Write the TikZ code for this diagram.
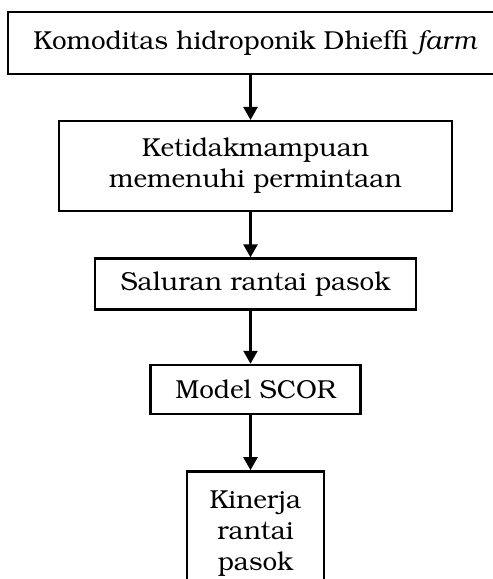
\documentclass[tikz,border=0pt]{standalone}
\usepackage[T1]{fontenc}
\usepackage{bookman}
\usetikzlibrary{arrows.meta,positioning}
\tikzset{stage/.style={rectangle,draw=black,line width=2.4pt,fill=white,align=center,inner sep=2pt,font=\fontsize{26}{31}\selectfont}}
\tikzset{toArrow/.style={-{Triangle[width=14pt,length=13pt]},line width=2.4pt,shorten <=-1pt}}

\begin{document}
\begin{tikzpicture}[x=1pt,y=-1pt]
\clip (0,0) rectangle (493,579);
\useasboundingbox (0,0) rectangle (493,579);
\begin{scope}[node distance=45pt]
	\node (komoditas) [stage,minimum width=495pt,minimum height=61.5pt] at (255.5,43) {Komoditas hidroponik Dhieffi \textit{farm}} ;
	\node (ketidak) [stage,minimum width=393pt,minimum height=90pt, below =of komoditas] {Ketidakmampuan\\memenuhi permintaan} ;
	\node (saluran) [stage,minimum width=321pt,minimum height=51pt, below =of ketidak] {Saluran rantai pasok} ;
	\node (scor) [stage,minimum width=210pt,minimum height=49pt, below =53pt of saluran] {Model SCOR} ;
	\node (kinerja) [stage,minimum width=137pt,minimum height=123pt, below =55pt of scor] {Kinerja\\rantai\\pasok} ;
	\draw [toArrow] ([xshift=-5pt]komoditas.south) -- ([xshift=-5pt]ketidak.north);
	\draw [toArrow] ([xshift=-5pt]ketidak.south) -- ([xshift=-5pt]saluran.north);
	\draw [toArrow] ([xshift=-5pt]saluran.south) -- ([xshift=-5pt]scor.north);
	\draw [toArrow] ([xshift=-5pt]scor.south) -- ([xshift=-5pt]kinerja.north);
\end{scope}
\end{tikzpicture}
\end{document}
